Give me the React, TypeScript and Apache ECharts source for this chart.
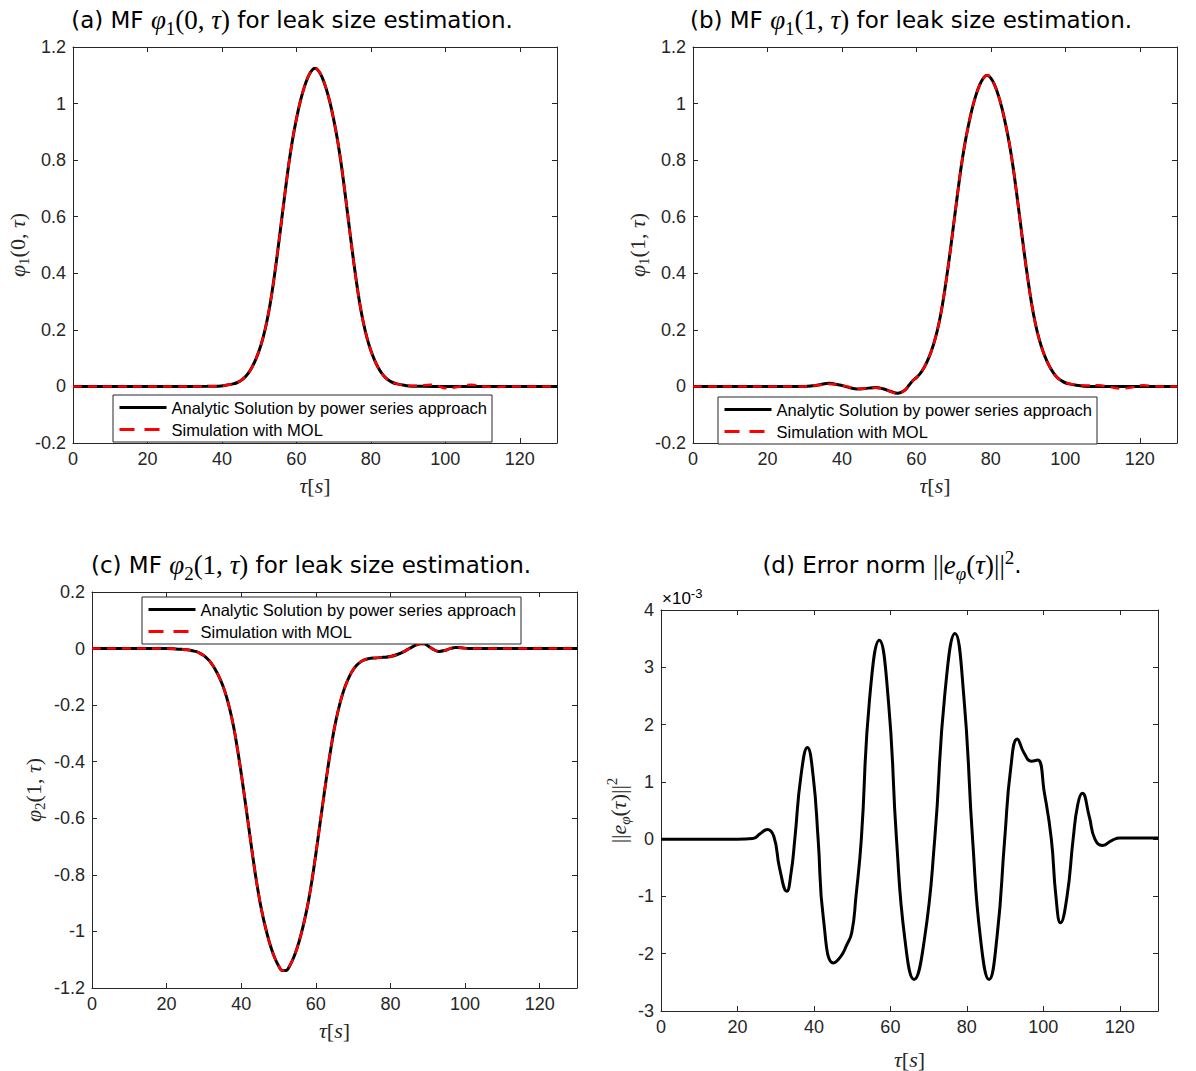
import React, { useEffect, useRef } from 'react';
import * as echarts from 'echarts';

const NAME_A = 'Analytic Solution by power series approach';
const NAME_M = 'Simulation with MOL';

// (a) φ1(0,τ)
const aAnalytic: [number, number][] = [[0,0],[30,0],[36,0.0003],[39,0.001],[41,0.004],[43,0.009],[44,0.013],[45,0.02],[46,0.03],[47,0.045],[48,0.066],[49,0.093],[50,0.127],[51,0.17],[52,0.225],[53,0.295],[54,0.382],[55,0.48],[56,0.585],[57,0.69],[58,0.79],[59,0.875],[60,0.945],[61,1.005],[62,1.053],[63,1.09],[64,1.115],[65,1.125],[66,1.115],[67,1.09],[68,1.053],[69,1.005],[70,0.945],[71,0.875],[72,0.79],[73,0.69],[74,0.585],[75,0.48],[76,0.382],[77,0.295],[78,0.225],[79,0.17],[80,0.127],[81,0.093],[82,0.066],[83,0.045],[84,0.03],[85,0.02],[86,0.013],[87,0.009],[89,0.004],[91,0.001],[94,0.0003],[100,0],[130,0]];
const aMOL: [number, number][] = [[0,0],[30,0],[36,0.0003],[39,0.001],[41,0.004],[43,0.009],[44,0.013],[45,0.02],[46,0.03],[47,0.045],[48,0.066],[49,0.093],[50,0.127],[51,0.17],[52,0.225],[53,0.295],[54,0.382],[55,0.48],[56,0.585],[57,0.69],[58,0.79],[59,0.875],[60,0.945],[61,1.005],[62,1.053],[63,1.09],[64,1.115],[65,1.125],[66,1.115],[67,1.09],[68,1.053],[69,1.005],[70,0.945],[71,0.875],[72,0.79],[73,0.69],[74,0.585],[75,0.48],[76,0.382],[77,0.295],[78,0.225],[79,0.17],[80,0.127],[81,0.093],[82,0.066],[83,0.045],[84,0.03],[85,0.02],[86,0.013],[87,0.009],[89,0.004],[91,0.002],[93,0.003],[96,0.006],[98,0.002],[100,-0.006],[102,-0.005],[104,0],[107,0.006],[110,0.001],[113,-0.002],[117,0],[130,0]];

// (b) φ1(1,τ)
const bAnalytic: [number, number][] = [[0,0],[30,0],[32,0.002],[34,0.006],[36.5,0.011],[39,0.006],[41,0],[43,-0.007],[45,-0.009],[47,-0.006],[49,-0.004],[51,-0.008],[53,-0.017],[55,-0.024],[56,-0.02],[57,-0.012],[58,0.004],[59,0.02],[60,0.031],[61,0.045],[62,0.065],[63,0.091],[64,0.124],[65,0.166],[66,0.22],[67,0.289],[68,0.374],[69,0.469],[70,0.572],[71,0.675],[72,0.773],[73,0.856],[74,0.924],[75,0.983],[76,1.03],[77,1.066],[78,1.09],[79,1.1],[80,1.09],[81,1.066],[82,1.03],[83,0.983],[84,0.924],[85,0.856],[86,0.773],[87,0.675],[88,0.572],[89,0.469],[90,0.374],[91,0.289],[92,0.22],[93,0.166],[94,0.124],[95,0.091],[96,0.065],[97,0.044],[98,0.029],[99,0.02],[100,0.013],[101,0.009],[103,0.004],[105,0.001],[108,0],[130,0]];
const bMOL: [number, number][] = [[0,0],[30,0],[32,0.002],[34,0.005],[36.5,0.009],[39,0.006],[41,0.001],[43,-0.006],[45,-0.008],[47,-0.006],[49,-0.005],[51,-0.009],[53,-0.018],[55,-0.026],[56,-0.021],[57,-0.012],[58,0.004],[59,0.02],[60,0.031],[61,0.045],[62,0.065],[63,0.091],[64,0.124],[65,0.166],[66,0.22],[67,0.289],[68,0.374],[69,0.469],[70,0.572],[71,0.675],[72,0.773],[73,0.856],[74,0.924],[75,0.983],[76,1.03],[77,1.066],[78,1.09],[79,1.1],[80,1.09],[81,1.066],[82,1.03],[83,0.983],[84,0.924],[85,0.856],[86,0.773],[87,0.675],[88,0.572],[89,0.469],[90,0.374],[91,0.289],[92,0.22],[93,0.166],[94,0.124],[95,0.091],[96,0.065],[97,0.044],[98,0.029],[99,0.02],[100,0.013],[101,0.01],[103,0.006],[106,0.003],[109,0.004],[112,-0.002],[115,-0.008],[118,-0.003],[121,0.004],[124,0.001],[127,0],[130,0]];

// (c) φ2(1,τ)
const cAnalytic: [number, number][] = [[0,0],[20,0],[22,-0.001],[24,-0.0025],[25,-0.004],[26,-0.005],[27,-0.008],[28,-0.011],[29,-0.017],[30,-0.025],[31,-0.037],[32,-0.052],[33,-0.073],[34,-0.098],[35,-0.129],[36,-0.168],[37,-0.218],[38,-0.279],[39,-0.356],[40,-0.442],[41,-0.535],[42,-0.63],[43,-0.726],[44,-0.816],[45,-0.894],[46,-0.958],[47,-1.012],[48,-1.058],[49,-1.094],[50,-1.121],[51,-1.138],[52,-1.138],[53,-1.121],[54,-1.094],[55,-1.058],[56,-1.012],[57,-0.958],[58,-0.894],[59,-0.816],[60,-0.726],[61,-0.63],[62,-0.535],[63,-0.442],[64,-0.356],[65,-0.279],[66,-0.218],[67,-0.168],[68,-0.129],[69,-0.098],[70,-0.075],[71,-0.058],[72,-0.047],[73,-0.04],[74,-0.036],[76,-0.033],[78,-0.031],[80,-0.028],[82,-0.02],[84,-0.008],[86,0.007],[88,0.017],[89,0.017],[90,0.01],[91.5,-0.003],[93,-0.01],[94.5,-0.007],[96,0],[97.5,0.004],[99,0.003],[101,0],[130,0]];
const cMOL: [number, number][] = [[0,0],[20,0],[22,-0.001],[24,-0.0025],[25,-0.004],[26,-0.005],[27,-0.008],[28,-0.011],[29,-0.017],[30,-0.025],[31,-0.037],[32,-0.052],[33,-0.073],[34,-0.098],[35,-0.129],[36,-0.168],[37,-0.218],[38,-0.279],[39,-0.356],[40,-0.442],[41,-0.535],[42,-0.63],[43,-0.726],[44,-0.816],[45,-0.894],[46,-0.958],[47,-1.012],[48,-1.058],[49,-1.094],[50,-1.121],[51,-1.138],[52,-1.138],[53,-1.121],[54,-1.094],[55,-1.058],[56,-1.012],[57,-0.958],[58,-0.894],[59,-0.816],[60,-0.726],[61,-0.63],[62,-0.535],[63,-0.442],[64,-0.356],[65,-0.279],[66,-0.218],[67,-0.168],[68,-0.129],[69,-0.098],[70,-0.075],[71,-0.058],[72,-0.047],[73,-0.04],[74,-0.036],[76,-0.033],[78,-0.031],[80,-0.028],[82,-0.02],[84,-0.008],[86,0.006],[88,0.016],[89,0.016],[90,0.01],[91.5,-0.003],[93,-0.01],[94.5,-0.007],[96,0],[97.5,0.004],[99,0.003],[101,0],[130,0]];

// (d) error norm, in units of 1e-3
const dError: [number, number][] = [[0,0],[20,0],[24,0.01],[26,0.1],[27.8,0.17],[29.5,0.05],[31,-0.5],[32.9,-0.91],[34,-0.6],[35,0],[36.6,1.1],[38.3,1.6],[39.8,1.1],[41.1,0],[42.5,-1.4],[45.1,-2.16],[47,-2.05],[48.5,-1.86],[49.9,-1.63],[51,-1.0],[52.4,0],[54.5,2.4],[57.1,3.47],[59.5,2.4],[61.6,0],[63.8,-1.75],[66.2,-2.45],[68.9,-1.75],[71.6,0],[74.2,2.5],[76.9,3.59],[79.2,2.5],[81.5,0],[83.6,-1.75],[85.8,-2.45],[87.9,-1.7],[89.9,0],[91.5,1.25],[93.2,1.75],[95,1.5],[96.9,1.36],[98.5,1.38],[100.3,0.8],[102.1,0],[103.3,-1.0],[104.5,-1.46],[106.2,-1.0],[107.8,0],[109,0.6],[110.2,0.8],[112,0.4],[113.5,0],[115.5,-0.11],[118,-0.02],[120,0.02],[130,0.02]];

const AX = '#262626';
const SANS = 'Liberation Sans';
const SERIF = 'Liberation Serif';
const TITLE_FONT = 'DejaVu Sans';

const mathRich = (size: number) => ({
  i: { fontFamily: SERIF, fontStyle: 'italic', fontSize: size, color: AX, lineHeight: size + 6 },
  r: { fontFamily: SERIF, fontSize: size, color: AX, lineHeight: size + 6 },
  s: { fontFamily: SERIF, fontSize: Math.round(size * 0.68), color: AX, verticalAlign: 'bottom', lineHeight: Math.round(size * 0.68) },
  si: { fontFamily: SERIF, fontStyle: 'italic', fontSize: Math.round(size * 0.68), color: AX, verticalAlign: 'bottom', lineHeight: Math.round(size * 0.68) },
  p: { fontFamily: SERIF, fontSize: Math.round(size * 0.68), color: AX, verticalAlign: 'top', lineHeight: Math.round(size * 0.68) },
});

const titleRich = (size: number, msize: number) => ({
  t: { fontFamily: TITLE_FONT, fontSize: size, color: '#000', lineHeight: msize + 8 },
  i: { fontFamily: SERIF, fontStyle: 'italic', fontSize: msize, color: '#000', lineHeight: msize + 8 },
  r: { fontFamily: SERIF, fontSize: msize, color: '#000', lineHeight: msize + 8 },
  s: { fontFamily: SERIF, fontSize: Math.round(msize * 0.7), color: '#000', verticalAlign: 'bottom', lineHeight: Math.round(msize * 0.7) + 2 },
  si: { fontFamily: SERIF, fontStyle: 'italic', fontSize: Math.round(msize * 0.7), color: '#000', verticalAlign: 'bottom', lineHeight: Math.round(msize * 0.7) + 2 },
  p: { fontFamily: SERIF, fontSize: Math.round(msize * 0.7), color: '#000', verticalAlign: 'top', lineHeight: Math.round(msize * 0.7) },
});

const TAU_NAME = '{i|τ}{r|[}{i|s}{r|]}';

const panels = [
  { grid: { left: 73, top: 47, width: 484, height: 396 }, yMin: -0.2, yMax: 1.2, yInt: 0.2, yName: '{i|φ}{s|1}{r|(0, }{i|τ}{r|)}', yGap: 42, xGap: 28 },
  { grid: { left: 693, top: 47, width: 484, height: 396 }, yMin: -0.2, yMax: 1.2, yInt: 0.2, yName: '{i|φ}{s|1}{r|(1, }{i|τ}{r|)}', yGap: 42, xGap: 28 },
  { grid: { left: 92, top: 592, width: 485, height: 396 }, yMin: -1.2, yMax: 0.2, yInt: 0.2, yName: '{i|φ}{s|2}{r|(1, }{i|τ}{r|)}', yGap: 45, xGap: 28 },
  { grid: { left: 661, top: 610, width: 497, height: 405 }, yMin: -3, yMax: 4, yInt: 1, yName: '{r|||}{i|e}{si|φ}{r|(}{i|τ}{r|)||}{p|2}', yGap: 29, xGap: 34 },
];

const titles = [
  { x: 292, y: 20, text: '{t|(a) MF }{i|φ}{s|1}{r|(0, }{i|τ}{r|)}{t| for leak size estimation.}' },
  { x: 911, y: 20, text: '{t|(b) MF }{i|φ}{s|1}{r|(1, }{i|τ}{r|)}{t| for leak size estimation.}' },
  { x: 311, y: 565, text: '{t|(c) MF }{i|φ}{s|2}{r|(1, }{i|τ}{r|)}{t| for leak size estimation.}' },
  { x: 892, y: 565, text: '{t|(d) Error norm }{r|||}{i|e}{si|φ}{r|(}{i|τ}{r|)||}{p|2}{t|.}' },
];

const legendPos = [
  { left: 113, top: 395 },
  { left: 718, top: 397 },
  { left: 142, top: 597 },
];

function buildOption() {
  const xAxis: any[] = [];
  const yAxis: any[] = [];
  const common = {
    axisLine: { show: true, onZero: false, lineStyle: { color: AX, width: 1 } },
    axisTick: { show: true, inside: true, length: 5, lineStyle: { color: AX, width: 1 } },
    splitLine: { show: false },
  };
  panels.forEach((p, g) => {
    xAxis.push({
      type: 'value', gridIndex: g, min: 0, max: 130, interval: 20, position: 'bottom', ...common,
      axisLabel: { fontSize: 18, fontFamily: SANS, color: AX, margin: 7, showMaxLabel: false },
      name: TAU_NAME, nameLocation: 'middle', nameGap: p.xGap, nameTextStyle: { rich: mathRich(22) },
    });
    xAxis.push({
      type: 'value', gridIndex: g, min: 0, max: 130, interval: 20, position: 'top', ...common,
      axisLabel: { show: false },
    });
    yAxis.push({
      type: 'value', gridIndex: g, min: p.yMin, max: p.yMax, interval: p.yInt, position: 'left', ...common,
      axisLabel: { fontSize: 18, fontFamily: SANS, color: AX, margin: 7 },
      name: p.yName, nameLocation: 'middle', nameGap: p.yGap, nameTextStyle: { rich: mathRich(22) },
    });
    yAxis.push({
      type: 'value', gridIndex: g, min: p.yMin, max: p.yMax, interval: p.yInt, position: 'right', ...common,
      axisLabel: { show: false },
    });
  });

  const pairs = [
    [aAnalytic, aMOL],
    [bAnalytic, bMOL],
    [cAnalytic, cMOL],
  ];
  const series: any[] = [];
  pairs.forEach(([an, mol], g) => {
    series.push({
      type: 'line', name: NAME_A, xAxisIndex: 2 * g, yAxisIndex: 2 * g, data: an,
      symbol: 'none', showSymbol: false, smooth: 0.4, z: 2,
      lineStyle: { color: '#000', width: 3 }, itemStyle: { color: '#000' },
    });
    series.push({
      type: 'line', name: NAME_M, xAxisIndex: 2 * g, yAxisIndex: 2 * g, data: mol,
      symbol: 'none', showSymbol: false, smooth: 0.4, z: 3,
      lineStyle: { color: '#ff0000', width: 2.5, type: [9, 6] }, itemStyle: { color: '#ff0000' },
    });
  });
  series.push({
    type: 'line', name: 'error', xAxisIndex: 6, yAxisIndex: 6, data: dError,
    symbol: 'none', showSymbol: false, smooth: 0.5, z: 2,
    lineStyle: { color: '#000', width: 3 }, itemStyle: { color: '#000' },
  });

  const legend = legendPos.map((lp) => ({
    left: lp.left, top: lp.top, orient: 'vertical', itemWidth: 47, itemHeight: 14, itemGap: 5,
    padding: [4, 5, 4, 5], borderColor: AX, borderWidth: 1, backgroundColor: '#fff',
    textStyle: { fontSize: 16.5, fontFamily: SANS, color: '#000' },
    itemStyle: { opacity: 0 },
    data: [
      { name: NAME_A, lineStyle: { width: 3, color: '#000' } },
      { name: NAME_M, lineStyle: { type: [15, 10], width: 3, color: '#ff0000' } },
    ],
    selectedMode: false, z: 10,
  }));

  const graphic: any[] = titles.map((t) => ({
    type: 'text', x: t.x, y: t.y, z: 10,
    style: { text: t.text, rich: titleRich(23, 27), align: 'center', verticalAlign: 'middle' },
  }));
  graphic.push({
    type: 'text', x: 662, y: 598, z: 10,
    style: {
      text: '{a|×10}{b|-3}', verticalAlign: 'middle', align: 'left',
      rich: {
        a: { fontFamily: SANS, fontSize: 17, color: AX, lineHeight: 22 },
        b: { fontFamily: SANS, fontSize: 13, color: AX, verticalAlign: 'top', lineHeight: 13 },
      },
    },
  });

  return {
    animation: false,
    backgroundColor: '#fff',
    grid: panels.map((p) => ({ ...p.grid, containLabel: false })),
    xAxis, yAxis, series, legend, graphic,
  };
}

export default function App() {
  const ref = useRef<HTMLDivElement>(null);
  useEffect(() => {
    const chart = echarts.init(ref.current!, null, { renderer: 'svg' });
    chart.setOption(buildOption() as any);
    return () => chart.dispose();
  }, []);
  return (
    <div
      ref={ref}
      style={{ position: 'absolute', left: 0, top: 0, width: 1196, height: 1071, background: '#fff' }}
    />
  );
}
